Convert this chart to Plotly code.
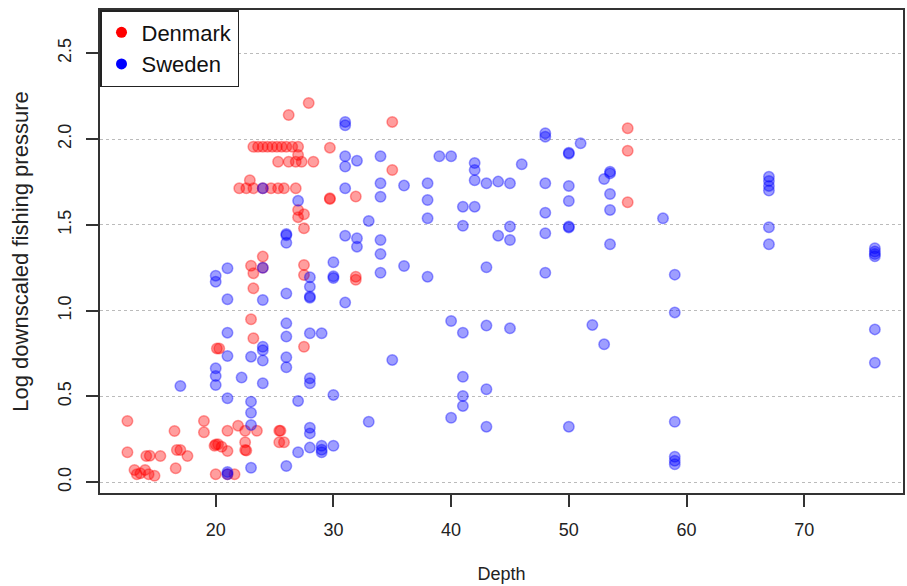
import plotly.graph_objects as go

# Denmark stations: depth (m) and log downscaled fishing pressure
dk_depth = [
    27.9, 26.2, 35.0, 29.7,
    23.2, 23.6, 24.0, 24.4, 24.8, 25.2, 25.6, 26.0, 26.5, 27.0,
    27.0,
    25.3, 26.2, 26.8, 27.3, 28.3,
    35.0, 22.9,
    22.0, 22.6, 23.2, 24.0, 24.7, 25.3, 25.8, 26.8,
    31.9, 29.7, 29.7,
    27.0, 27.0, 27.5, 27.5,
    55.0, 55.0, 55.0,
    24.0, 23.0, 23.2, 24.0,
    27.5, 27.5, 31.9, 31.9,
    23.2, 23.0, 23.2, 20.1, 20.3, 27.5,
    12.5, 19.0, 12.5,
    16.5, 19.0, 21.0, 21.9, 22.5, 23.5, 25.4, 25.5,
    25.4, 25.8, 22.5, 22.5, 22.6,
    19.9, 20.2, 20.5, 20.0, 21.0,
    14.1, 14.4, 15.3, 16.7, 17.0, 17.6, 16.6,
    13.1, 13.3, 13.6, 14.0, 14.3, 14.8,
    20.0, 21.0, 21.6,
]
dk_pressure = [
    2.21, 2.14, 2.10, 1.95,
    1.955, 1.955, 1.955, 1.955, 1.955, 1.955, 1.955, 1.955, 1.955, 1.955,
    1.907,
    1.868, 1.868, 1.868, 1.868, 1.868,
    1.82, 1.76,
    1.713, 1.713, 1.713, 1.713, 1.713, 1.713, 1.713, 1.713,
    1.665, 1.655, 1.650,
    1.587, 1.545, 1.562, 1.48,
    2.063, 1.932, 1.632,
    1.315, 1.262, 1.218, 1.25,
    1.266, 1.208, 1.198, 1.18,
    1.13, 0.95, 0.839, 0.78, 0.78, 0.79,
    0.357, 0.357, 0.175,
    0.299, 0.291, 0.30, 0.33, 0.30, 0.30, 0.30, 0.30,
    0.233, 0.233, 0.233, 0.188, 0.185,
    0.213, 0.221, 0.207, 0.22, 0.182,
    0.153, 0.155, 0.153, 0.188, 0.188, 0.153, 0.082,
    0.072, 0.047, 0.052, 0.072, 0.047, 0.038,
    0.047, 0.047, 0.047,
]

# Sweden stations: depth (m) and log downscaled fishing pressure
se_depth = [
    31.0, 31.0, 31.0, 31.0, 32.0, 34.0, 39.0, 40.0,
    42.0, 42.0, 42.0, 46.0, 48.0, 48.0, 50.0, 50.0, 51.0,
    31.0, 34.0, 34.0, 36.0, 38.0, 38.0, 38.0, 41.0, 42.0,
    43.0, 44.0, 45.0, 48.0, 48.0, 50.0, 50.0,
    53.5, 53.5, 53.0, 53.5, 53.5, 53.5, 58.0,
    67.0, 67.0, 67.0, 67.0, 67.0, 67.0,
    76.0, 76.0, 76.0, 76.0, 76.0, 76.0,
    27.0, 24.0, 33.0, 41.0, 45.0, 45.0, 44.0, 48.0, 50.0, 50.0,
    26.0, 26.0, 26.0, 31.0, 32.0, 32.0, 34.0, 34.0,
    36.0, 38.0, 43.0, 48.0, 34.0, 30.0, 30.0, 30.0,
    28.0, 28.0, 28.0, 28.0, 31.0, 26.0, 24.0, 21.0, 20.0, 20.0,
    21.0, 24.0, 26.0, 26.0, 21.0, 24.0, 24.0,
    21.0, 23.0, 24.0, 26.0, 26.0, 20.0, 20.0, 20.0,
    22.2, 17.0, 24.0, 21.0, 23.0, 23.0, 23.0, 27.0,
    28.0, 29.0, 35.0, 40.0, 41.0, 43.0, 45.0,
    28.0, 28.0, 30.0, 41.0, 43.0, 41.0, 41.0, 40.0, 33.0, 43.0, 50.0,
    28.0, 28.0, 27.0, 28.0, 29.0, 29.0, 29.0, 30.0,
    26.0, 23.0, 21.0, 21.0,
    59.0, 59.0, 52.0, 53.0, 59.0, 59.0, 59.0, 59.0,
]
se_pressure = [
    2.10, 2.08, 1.90, 1.84, 1.874, 1.90, 1.90, 1.90,
    1.86, 1.82, 1.76, 1.853, 2.034, 2.014, 1.92, 1.915, 1.975,
    1.713, 1.742, 1.664, 1.729, 1.742, 1.645, 1.538, 1.606, 1.606,
    1.742, 1.752, 1.742, 1.742, 1.571, 1.727, 1.639,
    1.81, 1.80, 1.767, 1.68, 1.587, 1.387, 1.538,
    1.78, 1.756, 1.727, 1.70, 1.486, 1.387,
    1.364, 1.345, 1.33, 1.317, 0.891, 0.697,
    1.64, 1.713, 1.523, 1.495, 1.49, 1.412, 1.437, 1.451, 1.49, 1.485,
    1.447, 1.44, 1.396, 1.437, 1.422, 1.373, 1.412, 1.33,
    1.26, 1.198, 1.253, 1.221, 1.221, 1.282, 1.19, 1.20,
    1.195, 1.14, 1.082, 1.075, 1.047, 1.10, 1.25, 1.247, 1.204, 1.169,
    1.066, 1.062, 0.926, 0.849, 0.872, 0.79, 0.77,
    0.736, 0.732, 0.709, 0.728, 0.67, 0.664, 0.619, 0.567,
    0.61, 0.561, 0.577, 0.49, 0.47, 0.405, 0.334, 0.474,
    0.868, 0.868, 0.713, 0.94, 0.872, 0.913, 0.897,
    0.606, 0.577, 0.509, 0.615, 0.542, 0.503, 0.445, 0.376, 0.353, 0.324, 0.324,
    0.318, 0.285, 0.175, 0.202, 0.213, 0.175, 0.19, 0.213,
    0.095, 0.085, 0.047, 0.06,
    1.21, 0.99, 0.917, 0.804, 0.353, 0.149, 0.126, 0.105,
]

countries = ["Denmark", "Sweden"]
solid = {"Denmark": "rgb(255,0,0)", "Sweden": "rgb(0,0,255)"}
faded = {"Denmark": "rgba(255,0,0,0.38)", "Sweden": "rgba(0,0,255,0.38)"}
series = {"Denmark": (dk_depth, dk_pressure), "Sweden": (se_depth, se_pressure)}

fig = go.Figure()
for name in countries:
    xs, ys = series[name]
    fig.add_trace(go.Scatter(
        x=xs, y=ys, mode="markers", showlegend=False, hoverinfo="x+y",
        marker=dict(size=10.5, color=faded[name],
                    line=dict(color=faded[name], width=1.5)),
    ))
# legend keys drawn as solid dots
for name in countries:
    fig.add_trace(go.Scatter(
        x=[None], y=[None], mode="markers", name=name,
        marker=dict(size=11, color=solid[name]),
    ))

FONT = "Liberation Sans, Arial, sans-serif"

fig.update_layout(
    width=907, height=586,
    margin=dict(l=100, r=2, t=10, b=93),
    paper_bgcolor="white", plot_bgcolor="white",
    font=dict(family=FONT, size=18, color="#222"),
    showlegend=True,
    legend=dict(
        x=0, y=1, xanchor="left", yanchor="top",
        bgcolor="white", bordercolor="#222", borderwidth=1.5,
        font=dict(family=FONT, size=22, color="#111"),
        itemsizing="trace", tracegroupgap=0,
    ),
    xaxis=dict(
        range=[10.17, 78.39], tickmode="array",
        tickvals=[20, 30, 40, 50, 60, 70],
        ticks="outside", ticklen=12, tickwidth=1.5, tickcolor="#333",
        ticklabelstandoff=8,
        showline=True, mirror=True, linecolor="#333", linewidth=1.5,
        showgrid=False, zeroline=False,
        title=dict(text="Depth", standoff=28,
                   font=dict(family=FONT, size=18, color="#222")),
    ),
    yaxis=dict(
        range=[-0.0624, 2.752], tickmode="array",
        tickvals=[0, 0.5, 1.0, 1.5, 2.0, 2.5], tickformat=".1f",
        tickangle=-90,
        ticks="outside", ticklen=12, tickwidth=1.5, tickcolor="#333",
        ticklabelstandoff=8,
        showline=True, mirror=True, linecolor="#333", linewidth=1.5,
        showgrid=True, gridcolor="#bbbbbb", gridwidth=1.2, griddash="dot",
        zeroline=False,
        title=dict(text="Log downscaled fishing pressure", standoff=20,
                   font=dict(family=FONT, size=22, color="#222")),
    ),
)

fig.write_html("out.html")
